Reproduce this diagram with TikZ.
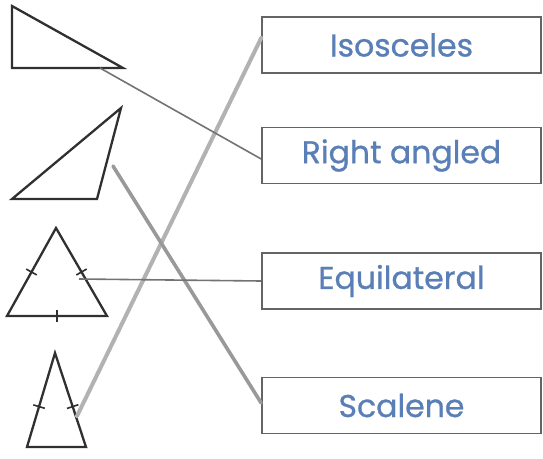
\documentclass[tikz,border=0pt]{standalone}
\usepackage{fontspec}
\setmainfont{Poppins}
\newfontfamily\labelfont[FakeBold=0.8]{Poppins}
\usetikzlibrary{calc}
\definecolor{txtblue}{HTML}{5A7FB6}
\definecolor{tri}{HTML}{303030}
\definecolor{boxc}{HTML}{646464}
\tikzset{
  shape3/.style={draw=tri, line width=2.3pt, line join=miter},
  tickmark/.style={draw=tri, line width=1.6pt},
  label box/.style={draw=boxc, line width=1.6pt, minimum width=279pt, minimum height=56pt,
    inner sep=0pt, text=txtblue, font=\labelfont\fontsize{31.5}{34}\selectfont},
  thinlink/.style={draw=black!55, line width=1.6pt},
  greylink/.style={draw=black!40, line width=3.6pt},
  paleline/.style={draw=black!30, line width=4pt}
}
\begin{document}
\begin{tikzpicture}[x=1pt,y=-1pt]
\useasboundingbox (0,0) rectangle (543,458);
\fill[white] (0,0) rectangle (543,458);
% triangles
\coordinate (r1) at (12,6); \coordinate (r2) at (12,68); \coordinate (r3) at (123,68);
\draw[shape3] (r1) -- (r2) -- (r3) -- cycle;
\coordinate (s1) at (12,199); \coordinate (s2) at (121,108); \coordinate (s3) at (97,199);
\draw[shape3] (s1) -- (s2) -- (s3) -- cycle;
\coordinate (e1) at (56,228); \coordinate (e2) at (7,316); \coordinate (e3) at (107,316);
\draw[shape3] (e1) -- (e2) -- (e3) -- cycle;
\coordinate (i1) at (55,353); \coordinate (i2) at (27,447); \coordinate (i3) at (86,447);
\draw[shape3] (i1) -- (i2) -- (i3) -- cycle;
% tick marks
\foreach \a/\b/\t in {e1/e2/0.5, e1/e3/0.5, e2/e3/0.5, i1/i2/0.57, i1/i3/0.57}{
  \coordinate (m) at ($(\a)!\t!(\b)$);
  \draw[tickmark] ($(m)!6pt!90:(\b)$) -- ($(m)!6pt!-90:(\b)$);
}
% boxes
\node[label box] (b1) at (401.5,45) {Isosceles};
\node[label box] (b2) at (401.5,155.5) {Right angled};
\node[label box] (b3) at (401.5,281) {Equilateral};
\node[label box] (b4) at (401.5,405.5) {Scalene};
% connector ends
\coordinate (rs) at (100,68);
\coordinate (ss) at (113,166);
\coordinate (es) at (79,279);
\coordinate (is) at (77,416);
\coordinate (b1in) at ([yshift=7pt]b1.west);
\coordinate (b2in) at ([yshift=-3.5pt]b2.west);
\coordinate (b3in) at (b3.west);
\coordinate (b4in) at ([yshift=2.5pt]b4.west);
% connectors
\draw[paleline, line cap=round] (is) -- (b1in);
\draw[greylink, line cap=round] (ss) -- (b4in);
\draw[thinlink] (rs) -- (b2in);
\draw[thinlink] (es) -- (b3in);
\end{tikzpicture}
\end{document}
